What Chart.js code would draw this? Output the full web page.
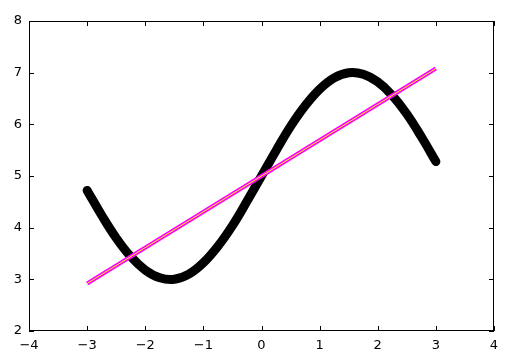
<!DOCTYPE html>
<html>
<head>
<meta charset="utf-8">
<script src="https://cdn.jsdelivr.net/npm/chart.js@4"></script>
<style>
  html, body { margin: 0; padding: 0; background: #fff; }
  #wrap { width: 511px; height: 364px; }
</style>
</head>
<body>
<div id="wrap"><canvas id="chart"></canvas></div>
<script>
// curve points
const curveX = [-3, -2.75, -2.5, -2.25, -2, -1.75, -1.5, -1.25, -1, -0.75, -0.5, -0.25, 0,
  0.25, 0.5, 0.75, 1, 1.25, 1.5, 1.75, 2, 2.25, 2.5, 2.75, 3];
const curveY = [4.72, 4.24, 3.80, 3.44, 3.18, 3.03, 3.00, 3.10, 3.32, 3.64, 4.04, 4.51, 5.00,
  5.49, 5.96, 6.36, 6.68, 6.90, 7.00, 6.97, 6.82, 6.56, 6.20, 5.76, 5.28];
// fitted straight line end points
const fitX = [-3, 3];
const fitY = [2.92, 7.08];
const xTicks = [-4, -3, -2, -1, 0, 1, 2, 3, 4];
const yTicks = [2, 3, 4, 5, 6, 7, 8];

const pts = (xs, ys) => xs.map((x, i) => ({ x: x, y: ys[i] }));
const fmt = (v) => String(v).replace("-", "\u2212");

// matplotlib style frame with inward ticks on all sides
const frame = {
  id: "frame",
  afterDraw(chart) {
    const { ctx, chartArea: a, scales } = chart;
    ctx.save();
    ctx.strokeStyle = "#000";
    ctx.lineWidth = 1;
    ctx.strokeRect(a.left + 0.5, a.top + 0.5, a.right - a.left - 1, a.bottom - a.top - 1);
    ctx.beginPath();
    xTicks.forEach((v) => {
      const px = Math.round(scales.x.getPixelForValue(v)) + 0.5;
      ctx.moveTo(px, a.bottom); ctx.lineTo(px, a.bottom - 5);
      ctx.moveTo(px, a.top); ctx.lineTo(px, a.top + 5);
    });
    yTicks.forEach((v) => {
      const py = Math.round(scales.y.getPixelForValue(v)) + 0.5;
      ctx.moveTo(a.left, py); ctx.lineTo(a.left + 5, py);
      ctx.moveTo(a.right, py); ctx.lineTo(a.right - 5, py);
    });
    ctx.stroke();
    ctx.restore();
  },
};

new Chart(document.getElementById("chart"), {
  type: "line",
  data: {
    datasets: [
      {
        data: pts(fitX, fitY),
        borderColor: "#ffff00",
        borderWidth: 1,
        pointRadius: 0,
        order: 0,
      },
      {
        data: pts(fitX, fitY),
        borderColor: "#ff00ff",
        borderWidth: 4,
        pointRadius: 0,
        order: 1,
      },
      {
        data: pts(curveX, curveY),
        borderColor: "#000000",
        borderWidth: 9,
        borderCapStyle: "round",
        borderJoinStyle: "round",
        tension: 0.4,
        pointRadius: 0,
        order: 2,
      },
    ],
  },
  options: {
    responsive: true,
    maintainAspectRatio: false,
    animation: false,
    events: [],
    layout: { padding: { top: 21, right: 17, left: 0, bottom: 0 } },
    plugins: { legend: { display: false }, tooltip: { enabled: false } },
    scales: {
      x: {
        type: "linear",
        min: -4,
        max: 4,
        afterFit: (s) => { s.height = 33; },
        afterBuildTicks: (s) => { s.ticks = xTicks.map((v) => ({ value: v })); },
        grid: { display: false, drawTicks: false },
        border: { display: false },
        ticks: {
          color: "#000",
          padding: 7,
          font: { family: "DejaVu Sans", size: 13 },
          callback: fmt,
        },
      },
      y: {
        min: 2,
        max: 8,
        afterFit: (s) => { s.width = 29; },
        afterBuildTicks: (s) => { s.ticks = yTicks.map((v) => ({ value: v })); },
        grid: { display: false, drawTicks: false },
        border: { display: false },
        ticks: {
          color: "#000",
          padding: 7,
          font: { family: "DejaVu Sans", size: 13 },
          callback: fmt,
        },
      },
    },
  },
  plugins: [frame],
});
</script>
</body>
</html>
